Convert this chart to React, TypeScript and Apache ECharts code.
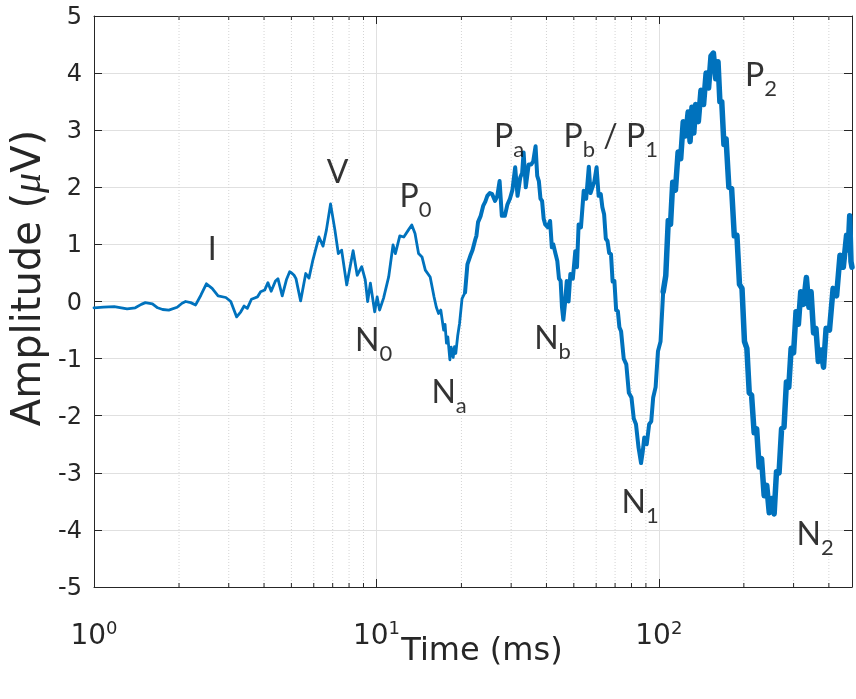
import React, { useEffect, useRef } from 'react';
import * as echarts from 'echarts';

// Time (ms) and amplitude (µV) (including the visible noise band)
const times = [
  1.0, 1.08, 1.18, 1.25, 1.31, 1.4, 1.47, 1.52, 1.61, 1.68, 1.75, 1.84, 1.97, 2.05, 2.11, 2.2, 2.29, 2.39, 2.5, 2.62,
  2.75, 2.93, 3.05, 3.2, 3.31, 3.4, 3.49, 3.61, 3.79, 3.89, 4.02, 4.13, 4.24, 4.39, 4.48, 4.64, 4.8, 4.93, 5.01, 5.11,
  5.19, 5.39, 5.62, 5.77, 5.96, 6.26, 6.47, 6.65, 6.88, 7.13, 7.33, 7.53, 7.85, 8.27, 8.55, 8.87, 9.13, 9.31, 9.52, 9.86,
  10.06, 10.26, 10.6, 11.05, 11.45, 11.67, 12.1, 12.5, 12.97, 13.34, 13.7, 14.1, 14.5, 14.9, 15.5, 16.0, 16.3, 16.6, 16.9, 17.3,
  17.5, 17.7, 17.9, 18.2, 18.4, 18.7, 18.9, 19.1, 19.4, 19.7, 20.1, 20.6, 21.0, 21.5, 21.9, 22.4, 22.6, 22.9, 23.4, 23.9,
  24.3, 24.7, 25.2, 25.7, 26.3, 26.8, 27.3, 27.8, 28.5, 29.1, 29.7, 30.3, 31.0, 31.6, 32.3, 32.8, 33.2, 33.8, 34.6, 35.3,
  35.9, 36.6, 37.1, 37.6, 38.1, 38.6, 39.1, 39.6, 40.4, 41.2, 41.8, 42.3, 43.0, 43.7, 44.3, 44.9, 45.4, 45.9, 46.5, 47.2,
  47.9, 48.6, 49.6, 50.6, 51.3, 52.0, 53.0, 54.2, 55.3, 56.5, 57.3, 58.1, 59.1, 60.2, 61.2, 62.3, 63.1, 64.0, 64.9, 65.8,
  66.7, 67.7, 68.6, 69.6, 70.6, 71.6, 72.5, 73.5, 75.1, 76.7, 78.3, 80.0, 81.5, 83.0, 84.7, 86.5, 87.6, 88.8, 90.6, 92.4,
  94.0, 95.5, 97.4, 99.3, 101.4, 103.6, 105.8, 108, 110, 112, 114.5, 117, 119.5, 122, 124.5, 127, 129, 131, 133, 135,
  138, 141, 144, 147, 150, 153, 156, 159, 162, 164.5, 167, 170, 173, 177, 181, 185, 189, 193, 197, 201,
  205, 209, 213, 217.5, 222, 226.5, 231, 236, 241, 246, 251, 256, 261, 266.5, 272, 277.5, 283, 288.5, 294, 300,
  306, 312, 318, 325, 333, 340, 346, 353, 360, 367, 375, 383, 391, 402, 414, 426, 438, 450, 462, 468,
  474, 479, 483,
];
const amps = [
  -0.11, -0.1, -0.09, -0.11, -0.13, -0.11, -0.05, -0.02, -0.04, -0.11, -0.14, -0.15, -0.1, -0.03, 0.0, -0.02, -0.06, 0.11, 0.31, 0.23,
  0.1, 0.07, 0.0, -0.27, -0.18, -0.08, -0.12, 0.04, 0.08, 0.17, 0.2, 0.33, 0.18, 0.36, 0.4, 0.1, 0.38, 0.52, 0.5, 0.46,
  0.4, 0.01, 0.49, 0.41, 0.73, 1.13, 0.97, 1.25, 1.71, 1.25, 0.84, 0.9, 0.29, 0.89, 0.46, 0.61, 0.38, 0.0, 0.32, -0.18,
  0.08, -0.15, 0.06, 0.43, 0.99, 0.84, 1.15, 1.13, 1.25, 1.34, 1.19, 0.84, 0.78, 0.55, 0.43, 0.08, -0.1, -0.21, -0.15, -0.5,
  -0.4, -0.73, -0.62, -1.02, -0.8, -0.98, -0.79, -0.91, -0.6, -0.38, 0.05, 0.16, 0.65, 0.8, 0.9, 1.09, 1.15, 1.39, 1.5, 1.68,
  1.75, 1.85, 1.9, 1.88, 1.76, 1.85, 2.11, 1.5, 1.5, 1.7, 1.8, 1.95, 2.35, 1.85, 2.17, 2.25, 2.61, 2.0, 2.4, 2.4,
  2.45, 2.72, 2.2, 2.11, 1.8, 1.76, 1.45, 1.35, 1.3, 1.41, 0.95, 1.0, 0.85, 0.71, 0.4, 0.36, -0.1, -0.32, -0.05, 0.36,
  0.0, 0.48, 0.4, 0.88, 0.6, 1.35, 1.3, 1.94, 1.8, 2.36, 1.9, 1.99, 2.1, 2.35, 1.85, 1.88, 1.65, 1.53, 1.1, 1.06,
  0.85, 0.83, 0.35, 0.36, -0.15, -0.17, -0.45, -0.52, -1.0, -1.1, -1.6, -1.68, -2.05, -2.15, -2.55, -2.83, -2.65, -2.38, -2.5, -2.15,
  -2.1, -1.68, -1.5, -0.87, -0.7, 0.17, 0.45, 1.42, 1.35, 2.09, 1.95, 2.62, 2.5, 3.15, 2.9, 3.32, 2.8, 3.4, 2.95, 3.45,
  3.15, 3.7, 3.45, 4.0, 3.74, 4.3, 4.35, 3.9, 4.2, 3.5, 3.5, 2.75, 2.85, 2.0, 1.98, 1.15, 1.16, 0.3, 0.23, -0.7,
  -0.82, -1.6, -1.64, -2.3, -2.23, -2.9, -2.75, -3.4, -3.22, -3.7, -3.45, -3.72, -2.98, -3.0, -2.23, -2.2, -1.41, -1.5, -0.82, -0.9,
  -0.18, -0.4, 0.17, -0.05, 0.42, -0.1, 0.17, -0.55, -0.47, -1.05, -0.85, -1.15, -0.47, -0.5, 0.23, 0.1, 0.81, 0.6, 1.16, 0.9,
  1.5, 0.7, 0.6,
];

// minor log ticks on the time axis
const minorTicks = [2, 3, 4, 5, 6, 7, 8, 9, 20, 30, 40, 50, 60, 70, 80, 90, 200, 300, 400];

// peak annotations ("_x" = subscript x)
const annText = ['I', 'V', 'P_0', 'N_0', 'N_a', 'P_a', 'P_b / P_1', 'N_b', 'N_1', 'P_2', 'N_2'];
const annT = [2.62, 7.28, 13.75, 9.77, 18.08, 29.48, 67.56, 42.03, 85.8, 230.1, 357.4];
const annV = [0.94, 2.3, 1.87, -0.64, -1.56, 2.92, 2.92, -0.61, -3.49, 4.0, -4.05];

const X_MIN = 1;
const X_MAX = 483;

function richLabel(s: string): string {
  let out = '';
  let buf = '';
  let i = 0;
  while (i < s.length) {
    if (s[i] === '_') {
      if (buf) out += `{m|${buf}}`;
      buf = '';
      out += `{s|${s[i + 1]}}`;
      i += 2;
    } else {
      buf += s[i];
      i += 1;
    }
  }
  if (buf) out += `{m|${buf}}`;
  return out;
}

export default function App() {
  const ref = useRef<HTMLDivElement>(null);

  useEffect(() => {
    const chart = echarts.init(ref.current!, null, { renderer: 'svg' });
    const pts = times.map((t, i) => [t, amps[i]]);
    const seg = (lo: number, hi: number) => pts.filter((p) => p[0] >= lo && p[0] <= hi);
    const lineColor = '#0072BD';
    const axisColor = '#262626';
    const mono = 'DejaVu Sans';

    const lineSeries = (data: number[][], width: number) => ({
      type: 'line',
      data,
      showSymbol: false,
      symbol: 'none',
      silent: true,
      z: 3,
      lineStyle: { color: lineColor, width, join: 'round', cap: 'round' },
    });

    const axisCommon = {
      axisLine: { show: true, onZero: false, lineStyle: { color: axisColor, width: 1 } },
      axisTick: { show: true, inside: true, length: 8, lineStyle: { color: axisColor, width: 1 } },
    };

    chart.setOption({
      animation: false,
      grid: { left: 94, right: 4, top: 16, bottom: 112, outerBoundsMode: 'none' },
      xAxis: [
        {
          type: 'log',
          logBase: 10,
          min: X_MIN,
          max: X_MAX,
          position: 'bottom',
          ...axisCommon,
          axisLabel: {
            margin: 31,
            color: axisColor,
            fontFamily: mono,
            formatter: (v: number) => {
              const e = Math.log10(v);
              const r = Math.round(e);
              if (Math.abs(e - r) > 1e-6) return '';
              return `{b|10}{s|${r}}`;
            },
            rich: {
              b: { fontSize: 28, lineHeight: 30, verticalAlign: 'bottom', fontFamily: mono, color: axisColor },
              s: { fontSize: 18, lineHeight: 20, padding: [0, 0, 20, 0], verticalAlign: 'top', fontFamily: mono, color: axisColor },
            },
          },
          splitLine: { show: true, lineStyle: { color: '#e0e0e0', width: 1 } },
          name: 'Time (ms)',
          nameLocation: 'middle',
          nameGap: 49,
          nameMoveOverlap: false,
          nameTextStyle: { fontSize: 32, lineHeight: 26, fontFamily: mono, color: axisColor, padding: [0, 0, 0, 18] },
        },
        {
          type: 'log',
          logBase: 10,
          min: X_MIN,
          max: X_MAX,
          position: 'top',
          ...axisCommon,
          axisLabel: { show: false },
          splitLine: { show: false },
        },
      ],
      yAxis: [
        {
          type: 'value',
          min: -5,
          max: 5,
          interval: 1,
          position: 'left',
          ...axisCommon,
          axisLabel: { margin: 12, fontSize: 24, fontFamily: mono, color: axisColor, padding: [6, 0, 0, 0] },
          splitLine: { show: true, lineStyle: { color: '#e0e0e0', width: 1 } },
        },
        {
          type: 'value',
          min: -5,
          max: 5,
          interval: 1,
          position: 'right',
          ...axisCommon,
          axisLabel: { show: false },
          splitLine: { show: false },
        },
      ],
      graphic: [
        {
          type: 'text',
          x: 26,
          y: 278,
          rotation: Math.PI / 2,
          style: {
            text: 'Amplitude ({i|μ}V)',
            fontSize: 40,
            fontFamily: mono,
            fill: axisColor,
            align: 'center',
            verticalAlign: 'middle',
            rich: {
              i: { fontSize: 40, fontStyle: 'italic', fontFamily: 'Liberation Serif', fill: axisColor },
            },
          },
        },
      ],
      series: [
        {
          type: 'custom',
          silent: true,
          z: 1,
          clip: false,
          data: minorTicks.map((t) => [t, 0]),
          renderItem: (params: any, api: any) => {
            const t = api.value(0);
            const top = api.coord([t, 5]);
            const bot = api.coord([t, -5]);
            return {
              type: 'group',
              children: [
                {
                  type: 'line',
                  shape: { x1: top[0], y1: top[1], x2: bot[0], y2: bot[1] },
                  style: { stroke: '#d4d4d4', lineWidth: 1, lineDash: [1, 2] },
                },
                {
                  type: 'line',
                  shape: { x1: bot[0], y1: bot[1], x2: bot[0], y2: bot[1] - 4 },
                  style: { stroke: axisColor, lineWidth: 1 },
                },
                {
                  type: 'line',
                  shape: { x1: top[0], y1: top[1], x2: top[0], y2: top[1] + 4 },
                  style: { stroke: axisColor, lineWidth: 1 },
                },
              ],
            };
          },
        },
        lineSeries(seg(0, 20.6), 2.8),
        lineSeries(seg(20.6, 103.6), 4),
        lineSeries(seg(103.6, 1000), 5.5),
        {
          type: 'scatter',
          silent: true,
          z: 5,
          symbolSize: 1,
          itemStyle: { color: 'rgba(0,0,0,0)' },
          data: annT.map((t, i) => [t, annV[i]]),
          label: {
            show: true,
            position: 'inside',
            offset: [0, 2],
            color: '#000',
            formatter: (p: any) => richLabel(annText[p.dataIndex]),
            rich: {
              m: { fontSize: 32, lineHeight: 36, verticalAlign: 'top', fontFamily: 'Lato', color: '#000' },
              s: { fontSize: 22, lineHeight: 22, padding: [19, 0, 0, 0], verticalAlign: 'top', fontFamily: 'Lato', color: '#000' },
            },
          },
        },
      ],
    });

    return () => chart.dispose();
  }, []);

  return <div ref={ref} style={{ position: 'fixed', left: 0, top: 0, width: 856, height: 699 }} />;
}
